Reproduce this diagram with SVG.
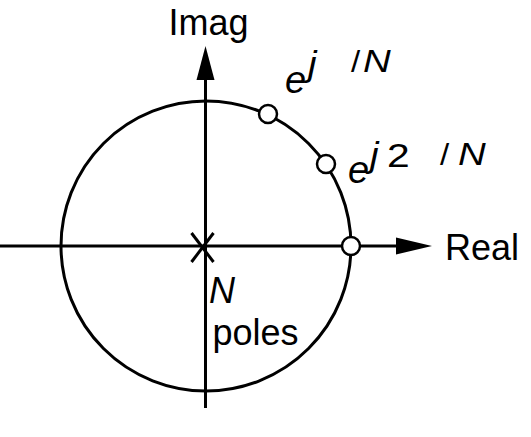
<svg xmlns="http://www.w3.org/2000/svg" width="531" height="437" viewBox="0 0 531 437">
<style>
  .ln { stroke: #000; stroke-width: 3; fill: none; }
  .pt { stroke: #000; stroke-width: 2.5; fill: #fff; }
  text { font-family: "Liberation Sans", Arial, sans-serif; fill: #000; }
</style>
<rect width="531" height="437" fill="#fff"/>
<g id="connectors">
  <line class="ln" x1="0" y1="246" x2="400" y2="246"/>
  <polygon points="432,246 396,237.5 396,254.5" fill="#000"/>
  <line class="ln" x1="205.5" y1="408" x2="205.5" y2="78"/>
  <polygon points="205.5,46 196.5,80 214.5,80" fill="#000"/>
</g>
<g id="unit-circle">
  <circle class="ln" cx="206" cy="246" r="145" stroke-width="2.5"/>
</g>
<g id="pole">
  <line class="ln" x1="191.5" y1="233" x2="213.5" y2="262" stroke-width="2.5"/>
  <line class="ln" x1="213.5" y1="233" x2="191.5" y2="262" stroke-width="2.5"/>
</g>
<g id="zero-1">
  <circle class="pt" cx="268" cy="114" r="9"/>
</g>
<g id="zero-2">
  <circle class="pt" cx="326" cy="164" r="9"/>
</g>
<g id="zero-0">
  <circle class="pt" cx="351" cy="246" r="9"/>
</g>
<g id="labels">
  <text x="168.5" y="35" font-size="36">Imag</text>
  <text x="445" y="260" font-size="36">Real</text>
  <text x="209" y="303" font-size="36" font-style="italic">N</text>
  <text x="212.5" y="345" font-size="36">poles</text>
  <text x="285" y="93" font-size="38" font-style="italic">e</text>
  <text transform="translate(308,76) scale(1.1,1)" font-size="35" font-style="italic">j</text>
  <text transform="translate(351,72) scale(1.1,1)" font-size="30">/</text>
  <text transform="translate(363,72) scale(1.2,1)" font-size="32" font-style="italic">N</text>
  <text x="348" y="183" font-size="38" font-style="italic">e</text>
  <text transform="translate(370,167) scale(1.1,1)" font-size="35" font-style="italic">j</text>
  <text transform="translate(387,167) scale(1.2,1)" font-size="34">2</text>
  <text transform="translate(440,165) scale(1.1,1)" font-size="30">/</text>
  <text transform="translate(458,165) scale(1.2,1)" font-size="32" font-style="italic">N</text>
</g>
</svg>
